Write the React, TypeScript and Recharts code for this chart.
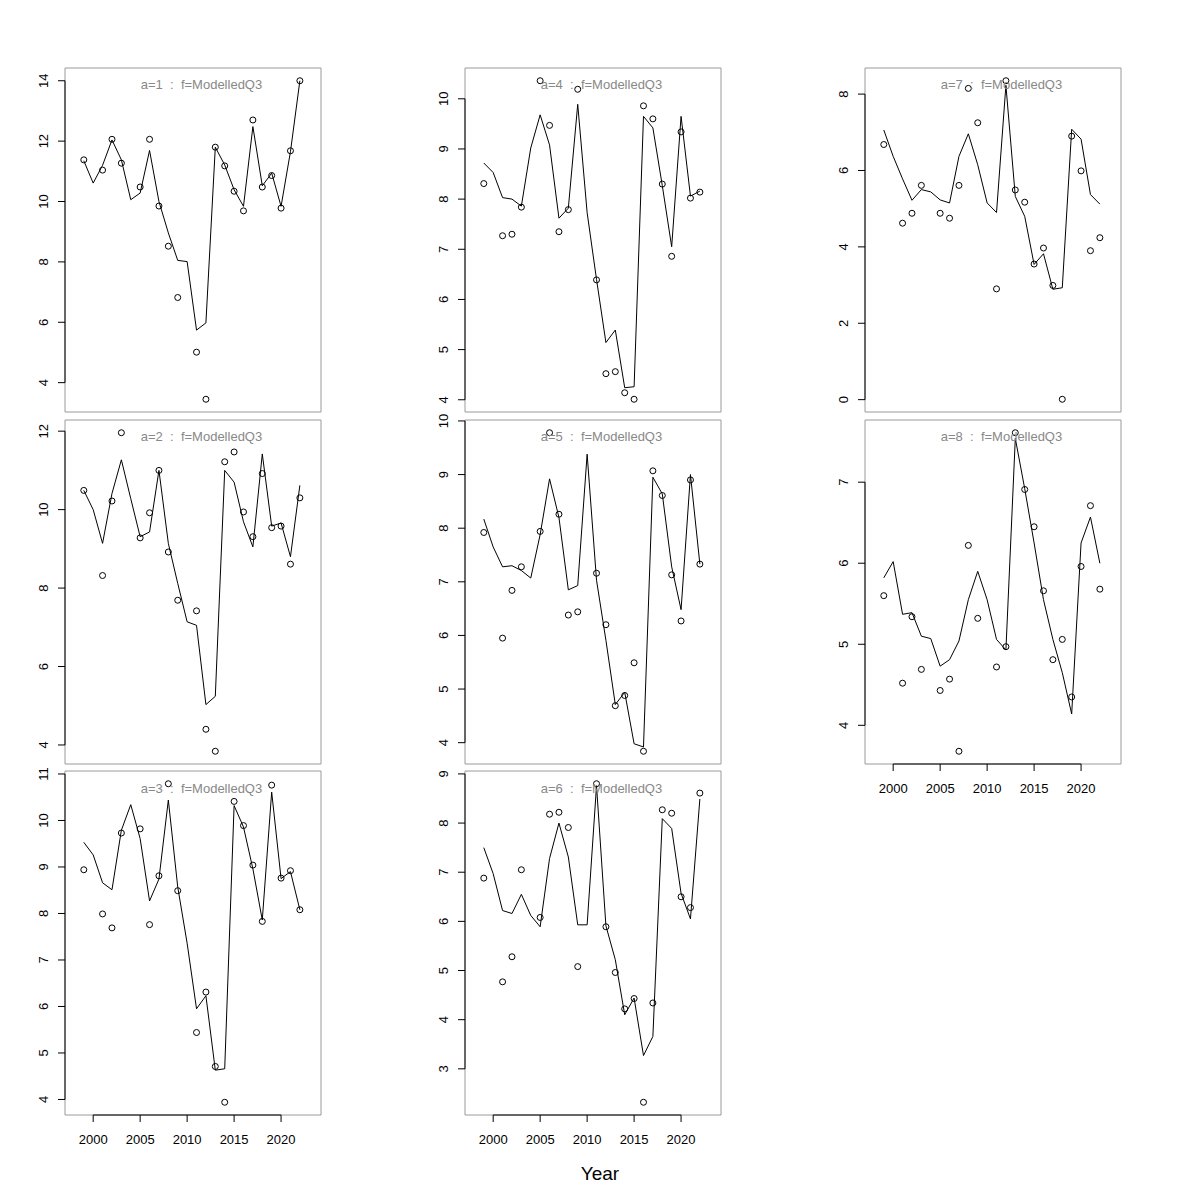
import React from "react";
import { ComposedChart, Line, XAxis, YAxis, ReferenceArea, ReferenceLine } from "recharts";

// survey years, 1999-2022 (no observations in 2000, 2004, 2010)
const years = [
  1999, 2000, 2001, 2002, 2003, 2004, 2005, 2006, 2007, 2008, 2009, 2010,
  2011, 2012, 2013, 2014, 2015, 2016, 2017, 2018, 2019, 2020, 2021, 2022,
];

const obsA1 = [11.38, null, 11.04, 12.06, 11.27, null, 10.48, 12.06, 9.85, 8.52, 6.82, null, 5.01, 3.45, 11.8, 11.18, 10.34, 9.69, 12.7, 10.48, 10.86, 9.78, 11.68, 14.0];
const fitA1 = [11.35, 10.61, 11.2, 12.04, 11.38, 10.06, 10.28, 11.69, 10.0, 8.96, 8.05, 8.01, 5.74, 5.98, 11.8, 11.21, 10.39, 9.84, 12.48, 10.52, 10.94, 9.84, 11.65, 14.0];

const obsA2 = [10.49, null, 8.32, 10.22, 11.96, null, 9.28, 9.92, 11.0, 8.92, 7.69, null, 7.42, 4.4, 3.84, 11.22, 11.47, 9.94, 9.31, 10.92, 9.54, 9.58, 8.61, 10.3];
const fitA2 = [10.49, 10.0, 9.14, 10.41, 11.27, 10.28, 9.31, 9.43, 11.0, 9.14, 8.12, 7.14, 7.05, 5.03, 5.24, 11.0, 10.7, 9.69, 9.05, 11.42, 9.58, 9.66, 8.8, 10.62];

const obsA3 = [8.94, null, 7.99, 7.69, 9.73, null, 9.82, 7.76, 8.81, 10.79, 8.49, null, 5.44, 6.31, 4.71, 3.94, 10.41, 9.89, 9.04, 7.83, 10.76, 8.76, 8.92, 8.08];
const fitA3 = [9.53, 9.26, 8.66, 8.51, 9.79, 10.34, 9.61, 8.27, 8.74, 10.44, 8.57, 7.36, 5.95, 6.23, 4.63, 4.66, 10.32, 9.86, 8.96, 7.86, 10.61, 8.75, 8.9, 8.08];

const obsA4 = [8.31, null, 7.27, 7.3, 7.84, null, 10.36, 9.47, 7.35, 7.79, 10.19, null, 6.39, 4.52, 4.56, 4.14, 4.01, 9.86, 9.6, 8.3, 6.86, 9.34, 8.02, 8.14];
const fitA4 = [8.72, 8.53, 8.03, 8.0, 7.86, 9.02, 9.68, 9.08, 7.62, 7.82, 9.89, 7.73, 6.4, 5.14, 5.39, 4.24, 4.26, 9.65, 9.42, 8.27, 7.05, 9.65, 8.06, 8.16];

const obsA5 = [7.92, null, 5.95, 6.84, 7.28, null, 7.94, 9.78, 8.26, 6.38, 6.44, null, 7.16, 6.2, 4.69, 4.88, 5.49, 3.84, 9.07, 8.61, 7.13, 6.27, 8.9, 7.33];
const fitA5 = [8.17, 7.65, 7.28, 7.3, 7.21, 7.07, 7.88, 8.92, 8.2, 6.85, 6.93, 9.38, 7.03, 5.91, 4.71, 4.94, 3.98, 3.92, 8.95, 8.64, 7.28, 6.48, 9.0, 7.33];

const obsA6 = [6.88, null, 4.77, 5.28, 7.05, null, 6.08, 8.18, 8.22, 7.91, 5.08, null, 8.8, 5.89, 4.96, 4.22, 4.43, 2.32, 4.34, 8.27, 8.2, 6.5, 6.28, 8.61];
const fitA6 = [7.5, 6.97, 6.22, 6.16, 6.55, 6.12, 5.89, 7.28, 8.0, 7.31, 5.93, 5.93, 8.76, 5.91, 5.22, 4.1, 4.44, 3.27, 3.66, 8.09, 7.89, 6.57, 6.05, 8.49];

const obsA7 = [6.68, null, 4.62, 4.88, 5.61, null, 4.88, 4.75, 5.61, 8.15, 7.25, null, 2.9, 8.35, 5.49, 5.17, 3.55, 3.97, 2.99, 0.01, 6.9, 5.99, 3.9, 4.24];
const fitA7 = [7.06, 6.37, 5.78, 5.22, 5.5, 5.44, 5.23, 5.15, 6.37, 6.96, 6.15, 5.15, 4.9, 8.23, 5.32, 4.8, 3.54, 3.82, 2.89, 2.93, 7.08, 6.82, 5.37, 5.12];

const obsA8 = [5.6, null, 4.52, 5.34, 4.69, null, 4.43, 4.57, 3.68, 6.22, 5.32, null, 4.72, 4.97, 7.61, 6.91, 6.45, 5.66, 4.81, 5.06, 4.35, 5.96, 6.71, 5.68];
const fitA8 = [5.82, 6.02, 5.37, 5.39, 5.1, 5.07, 4.73, 4.81, 5.04, 5.55, 5.9, 5.55, 5.06, 4.93, 7.54, 6.92, 6.25, 5.55, 5.06, 4.65, 4.14, 6.25, 6.57, 6.0];

const yearTicks = [2000, 2005, 2010, 2015, 2020];
const ticksA1 = [4, 6, 8, 10, 12, 14];
const ticksA2 = [4, 6, 8, 10, 12];
const ticksA3 = [4, 5, 6, 7, 8, 9, 10, 11];
const ticksA4 = [4, 5, 6, 7, 8, 9, 10];
const ticksA5 = [4, 5, 6, 7, 8, 9, 10];
const ticksA6 = [3, 4, 5, 6, 7, 8, 9];
const ticksA7 = [0, 2, 4, 6, 8];
const ticksA8 = [4, 5, 6, 7];

const FONT = '"Liberation Sans", Arial, Helvetica, sans-serif';
const X_DOMAIN: [number, number] = [1997, 2024.25];
const COL_LEFT = [64.5, 464.5, 864.5];
const ROW_TOP = [67.5, 419.5, 771];
const BOX_W = 256;
const BOX_H = 344;
const AXIS_W = 50;
const PAD = 10;
const X_AXIS_H = 34;
const TICK_FONT = 13;

type Panel = {
  age: number;
  col: number;
  row: number;
  obs: (number | null)[];
  fit: number[];
  ticks: number[];
  showX: boolean;
};

const panels: Panel[] = [
  { age: 1, col: 0, row: 0, obs: obsA1, fit: fitA1, ticks: ticksA1, showX: false },
  { age: 2, col: 0, row: 1, obs: obsA2, fit: fitA2, ticks: ticksA2, showX: false },
  { age: 3, col: 0, row: 2, obs: obsA3, fit: fitA3, ticks: ticksA3, showX: true },
  { age: 4, col: 1, row: 0, obs: obsA4, fit: fitA4, ticks: ticksA4, showX: false },
  { age: 5, col: 1, row: 1, obs: obsA5, fit: fitA5, ticks: ticksA5, showX: false },
  { age: 6, col: 1, row: 2, obs: obsA6, fit: fitA6, ticks: ticksA6, showX: true },
  { age: 7, col: 2, row: 0, obs: obsA7, fit: fitA7, ticks: ticksA7, showX: false },
  { age: 8, col: 2, row: 1, obs: obsA8, fit: fitA8, ticks: ticksA8, showX: true },
];

// range of both series, widened by 4% on each side
function paddedRange(obs: (number | null)[], fit: number[]): [number, number] {
  const vals = [...fit, ...obs.filter((v): v is number => v != null)];
  const lo = Math.min(...vals);
  const hi = Math.max(...vals);
  const pad = (hi - lo) * 0.04;
  return [lo - pad, hi + pad];
}

// y tick labels run along the axis
function YTick(props: any) {
  const { x, y, payload } = props;
  const tx = x - 10.3;
  return (
    <text
      x={tx}
      y={y}
      transform={`rotate(-90, ${tx}, ${y})`}
      textAnchor="middle"
      fontSize={TICK_FONT}
      fontFamily={FONT}
      fill="#000"
    >
      {payload.value}
    </text>
  );
}

function AgePanel({ panel }: { panel: Panel }) {
  const { age, col, row, obs, fit, ticks, showX } = panel;
  const data = years.map((year, i) => ({ year, fit: fit[i], obs: obs[i] }));
  const yDomain = paddedRange(obs, fit);
  const left = COL_LEFT[col];
  const top = ROW_TOP[row];
  const height = PAD + BOX_H + (showX ? X_AXIS_H : 0) + PAD;

  return (
    <>
      <div style={{ position: "absolute", left: left - AXIS_W, top: top - PAD }}>
        <ComposedChart
          width={AXIS_W + BOX_W + PAD}
          height={height}
          data={data}
          margin={{ top: PAD, right: PAD, bottom: PAD, left: 0 }}
        >
          <XAxis
            dataKey="year"
            type="number"
            domain={X_DOMAIN}
            ticks={yearTicks}
            interval={0}
            allowDataOverflow
            hide={!showX}
            height={X_AXIS_H}
            axisLine={false}
            tickSize={7}
            tickMargin={13}
            tickLine={{ stroke: "#000" }}
            tick={{ fontSize: TICK_FONT, fill: "#000", fontFamily: FONT }}
          />
          <YAxis
            type="number"
            domain={yDomain}
            ticks={ticks}
            interval={0}
            allowDataOverflow
            width={AXIS_W}
            axisLine={false}
            tickSize={7}
            tickMargin={0}
            tickLine={{ stroke: "#000" }}
            tick={<YTick />}
          />
          <ReferenceArea
            x1={X_DOMAIN[0]}
            x2={X_DOMAIN[1]}
            y1={yDomain[0]}
            y2={yDomain[1]}
            fill="none"
            stroke="#9a9a9a"
            strokeWidth={1}
            ifOverflow="visible"
          />
          <ReferenceLine
            segment={[
              { x: X_DOMAIN[0], y: ticks[0] },
              { x: X_DOMAIN[0], y: ticks[ticks.length - 1] },
            ]}
            stroke="#000"
            ifOverflow="visible"
          />
          {showX && (
            <ReferenceLine
              segment={[
                { x: yearTicks[0], y: yDomain[0] },
                { x: yearTicks[yearTicks.length - 1], y: yDomain[0] },
              ]}
              stroke="#000"
              ifOverflow="visible"
            />
          )}
          <Line
            type="linear"
            dataKey="fit"
            stroke="#000"
            strokeWidth={1}
            dot={false}
            activeDot={false}
            isAnimationActive={false}
          />
          <Line
            type="linear"
            dataKey="obs"
            stroke="none"
            dot={{ r: 3, stroke: "#000", strokeWidth: 1, fill: "none" }}
            activeDot={false}
            isAnimationActive={false}
          />
        </ComposedChart>
      </div>
      <div
        style={{
          position: "absolute",
          left: left + 137,
          top: top + 16.5,
          transform: "translate(-50%, -50%)",
          fontSize: 13,
          lineHeight: 1,
          color: "#888",
          whiteSpace: "pre",
          fontFamily: FONT,
        }}
      >
        {`a=${age}  :  f=ModelledQ3`}
      </div>
    </>
  );
}

export default function App() {
  return (
    <div
      style={{
        position: "absolute",
        left: 0,
        top: 0,
        width: 1200,
        height: 1200,
        background: "#fff",
        fontFamily: FONT,
      }}
    >
      {panels.map((p) => (
        <AgePanel key={p.age} panel={p} />
      ))}
      <div
        style={{
          position: "absolute",
          left: 600,
          top: 1173,
          transform: "translate(-50%, -50%)",
          fontSize: 19,
          lineHeight: 1,
          color: "#000",
        }}
      >
        Year
      </div>
    </div>
  );
}
